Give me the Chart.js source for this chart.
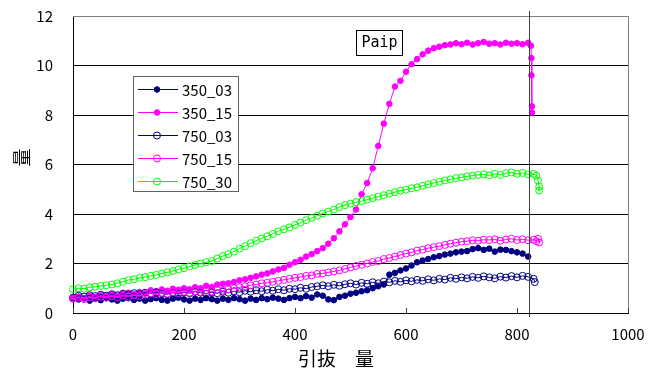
<!doctype html>
<html lang="ja">
<head>
<meta charset="utf-8">
<title>Paip</title>
<script src="https://cdn.jsdelivr.net/npm/chart.js"></script>
<style>
  html, body { margin: 0; padding: 0; background: #fff; }
  #wrap { width: 653px; height: 374px; }
</style>
<script>
// x positions shared by all series (引抜量)
const xSteps = [0,10,20,30,40,50,60,70,80,90,100,110,120,130,140,150,160,170,180,190,
  200,210,220,230,240,250,260,270,280,290,300,310,320,330,340,350,360,370,380,390,
  400,410,420,430,440,450,460,470,480,490,500,510,520,530,540,550,560,570,580,590,
  600,610,620,630,640,650,660,670,680,690,700,710,720,730,740,750,760,770,780,790,
  800,810,820];

const s350_03 = [0.62,0.55,0.6,0.5,0.58,0.52,0.6,0.55,0.5,0.58,0.6,0.53,0.58,0.5,0.56,0.6,0.53,0.5,0.58,0.62,
  0.55,0.5,0.58,0.53,0.6,0.56,0.5,0.58,0.53,0.6,0.56,0.5,0.58,0.53,0.6,0.56,0.62,0.58,0.53,0.6,
  0.65,0.6,0.68,0.62,0.75,0.7,0.55,0.52,0.65,0.7,0.78,0.82,0.88,0.92,1.0,1.08,1.15,1.55,1.62,1.72,
  1.8,1.92,2.05,2.12,2.18,2.25,2.3,2.36,2.4,2.45,2.48,2.5,2.58,2.62,2.55,2.6,2.48,2.56,2.55,2.5,
  2.45,2.4,2.28];
const s350_15 = [0.6,0.66,0.58,0.7,0.64,0.72,0.68,0.75,0.7,0.78,0.82,0.76,0.85,0.8,0.92,0.88,0.95,0.9,0.98,0.94,
  1.0,0.96,1.04,1.0,1.1,1.05,1.15,1.18,1.2,1.25,1.32,1.36,1.42,1.48,1.55,1.6,1.68,1.76,1.82,1.95,
  2.05,2.15,2.28,2.38,2.5,2.62,2.8,3.02,3.3,3.58,3.88,4.18,4.8,5.25,5.85,6.75,7.65,8.45,9.15,9.38,
  9.75,10.05,10.26,10.45,10.6,10.7,10.76,10.82,10.85,10.9,10.86,10.92,10.85,10.9,10.95,10.88,10.9,10.85,10.92,10.88,
  10.9,10.86,10.92];
const s750_03 = [0.62,0.7,0.66,0.72,0.68,0.74,0.7,0.76,0.72,0.78,0.74,0.8,0.76,0.82,0.78,0.84,0.8,0.76,0.82,0.78,
  0.84,0.8,0.86,0.82,0.78,0.84,0.8,0.86,0.82,0.88,0.84,0.9,0.86,0.92,0.88,0.94,0.9,0.96,0.92,0.98,
  0.96,1.02,0.98,1.05,1.08,1.12,1.08,1.14,1.1,1.16,1.2,1.15,1.22,1.18,1.24,1.2,1.27,1.24,1.3,1.26,
  1.32,1.28,1.34,1.3,1.36,1.32,1.38,1.35,1.42,1.38,1.44,1.4,1.46,1.42,1.48,1.44,1.4,1.47,1.43,1.49,
  1.44,1.5,1.46];
const s750_15 = [0.58,0.62,0.56,0.64,0.6,0.66,0.62,0.68,0.64,0.7,0.66,0.72,0.68,0.74,0.8,0.76,0.82,0.78,0.84,0.8,
  0.86,0.82,0.88,0.85,0.9,0.87,0.93,0.9,0.96,1.0,1.04,1.08,1.12,1.15,1.2,1.22,1.26,1.3,1.34,1.38,
  1.42,1.45,1.5,1.52,1.58,1.6,1.64,1.68,1.72,1.78,1.84,1.9,1.95,2.0,2.06,2.1,2.18,2.22,2.28,2.34,
  2.4,2.45,2.52,2.56,2.62,2.66,2.7,2.75,2.8,2.84,2.88,2.9,2.94,2.92,2.96,2.95,2.98,2.92,2.97,3.0,
  2.95,2.98,2.94];
const s750_30 = [0.96,1.0,0.98,1.04,1.06,1.09,1.12,1.15,1.2,1.26,1.33,1.36,1.42,1.45,1.5,1.54,1.6,1.64,1.7,1.76,
  1.81,1.88,1.94,2.0,2.05,2.1,2.2,2.3,2.38,2.48,2.6,2.7,2.82,2.92,3.02,3.1,3.2,3.3,3.38,3.46,
  3.56,3.65,3.75,3.84,3.93,4.02,4.1,4.18,4.28,4.36,4.42,4.48,4.52,4.58,4.64,4.7,4.76,4.82,4.88,4.94,
  4.98,5.04,5.08,5.14,5.2,5.25,5.3,5.36,5.4,5.45,5.48,5.52,5.55,5.58,5.6,5.56,5.62,5.58,5.65,5.68,
  5.62,5.66,5.6];

// end of each run (unloading)
const tail350_15x = [825,826,826,827,827];
const tail350_15y = [10.8,10.3,9.6,8.35,8.1];
const tail750_03x = [830,832];
const tail750_03y = [1.38,1.25];
const tail750_15x = [830,835,838,840];
const tail750_15y = [2.96,2.9,3.0,2.85];
const tail750_30x = [830,835,838,840,840];
const tail750_30y = [5.62,5.55,5.35,5.1,4.95];

const seriesNames = ['350_03','350_15','750_03','750_15','750_30'];
const xTicks = [0,200,400,600,800,1000];
const markX = 822;

const FONT = '"Noto Sans CJK JP", "Noto Sans", sans-serif';

function pts(ys, tx, ty){
  const out = [];
  for(let i=0;i<ys.length;i++) out.push({x:xSteps[i], y:ys[i]});
  if(tx){
    for(let i=0;i<tx.length;i++) out.push({x:tx[i], y:ty[i]});
  }
  return out;
}

const decor = {
  id: 'decor',
  afterDraw(chart){
    const ctx = chart.ctx;
    const a = chart.chartArea;
    const xs = chart.scales.x;
    ctx.save();
    // top / right border
    ctx.strokeStyle = '#808080';
    ctx.lineWidth = 1;
    ctx.beginPath();
    ctx.moveTo(a.left, a.top + 0.5);
    ctx.lineTo(a.right + 0.5, a.top + 0.5);
    ctx.lineTo(a.right + 0.5, a.bottom);
    ctx.stroke();
    // inside tick marks on x axis
    ctx.strokeStyle = '#404040';
    ctx.beginPath();
    xTicks.forEach(function(v){
      const px = Math.round(xs.getPixelForValue(v)) + 0.5;
      ctx.moveTo(px, a.bottom);
      ctx.lineTo(px, a.bottom - 5);
    });
    ctx.stroke();
    // vertical marker line
    const mx = Math.round(xs.getPixelForValue(markX)) + 0.5;
    ctx.strokeStyle = '#404040';
    ctx.beginPath();
    ctx.moveTo(mx, a.top - 5);
    ctx.lineTo(mx, a.bottom + 4);
    ctx.stroke();

    // Paip label
    ctx.fillStyle = '#fff';
    ctx.fillRect(356, 30, 47, 26);
    ctx.strokeStyle = '#000';
    ctx.strokeRect(356.5, 30.5, 46, 25);
    ctx.fillStyle = '#000';
    ctx.font = '15px "DejaVu Sans Mono", monospace';
    ctx.textAlign = 'center';
    ctx.textBaseline = 'middle';
    ctx.fillText('Paip', 379.5, 43.5);

    // legend
    ctx.fillStyle = '#fff';
    ctx.fillRect(133, 76, 105, 116);
    ctx.strokeStyle = '#606060';
    ctx.strokeRect(133.5, 76.5, 105, 115);
    ctx.font = '15px ' + FONT;
    ctx.textAlign = 'left';
    chart.data.datasets.forEach(function(ds, i){
      const yy = 89 + i * 23;
      ctx.strokeStyle = ds.borderColor;
      ctx.lineWidth = 1;
      ctx.beginPath();
      ctx.moveTo(138, yy + 0.5);
      ctx.lineTo(178, yy + 0.5);
      ctx.stroke();
      ctx.beginPath();
      ctx.arc(157, yy + 0.5, ds.pointRadius, 0, Math.PI * 2);
      ctx.fillStyle = ds.pointBackgroundColor;
      ctx.fill();
      ctx.strokeStyle = ds.pointBorderColor;
      ctx.stroke();
      ctx.fillStyle = '#000';
      ctx.fillText(ds.label, 182, yy + 1);
    });

    // axis titles
    ctx.fillStyle = '#000';
    ctx.font = '19px ' + FONT;
    ctx.textAlign = 'center';
    ctx.textBaseline = 'middle';
    ctx.fillText('引抜　量', 336, 359);
    ctx.save();
    ctx.translate(22.5, 157.5);
    ctx.rotate(-Math.PI / 2);
    ctx.font = '18px ' + FONT;
    ctx.fillText('量', 0, 0);
    ctx.restore();
    ctx.restore();
  }
};

function makeSet(name, data, color, filled, order){
  return {
    label: name,
    data: data,
    borderColor: color,
    backgroundColor: color,
    borderWidth: 1,
    pointRadius: filled ? 2.8 : 3.5,
    pointHoverRadius: filled ? 2.8 : 3.5,
    pointBorderWidth: 1,
    pointBackgroundColor: filled ? color : 'rgba(255,255,255,0)',
    pointBorderColor: color,
    tension: 0,
    fill: false,
    clip: false,
    order: order
  };
}

function noPad(s){
  s.paddingTop = 0; s.paddingBottom = 0; s.paddingLeft = 0; s.paddingRight = 0;
}

window.onload = function(){
  const datasets = [
    makeSet(seriesNames[0], pts(s350_03), '#000080', true, 5),
    makeSet(seriesNames[1], pts(s350_15, tail350_15x, tail350_15y), '#ff00ff', true, 4),
    makeSet(seriesNames[2], pts(s750_03, tail750_03x, tail750_03y), '#000080', false, 3),
    makeSet(seriesNames[3], pts(s750_15, tail750_15x, tail750_15y), '#ff00ff', false, 2),
    makeSet(seriesNames[4], pts(s750_30, tail750_30x, tail750_30y), '#00ff00', false, 1)
  ];

  new Chart(document.getElementById('c'), {
    type: 'line',
    data: { datasets: datasets },
    options: {
      responsive: false,
      animation: false,
      layout: { padding: { top: 16, right: 25, left: 0, bottom: 0 } },
      plugins: { legend: { display: false }, tooltip: { enabled: false } },
      scales: {
        x: {
          type: 'linear',
          min: 0, max: 1000,
          afterFit: function(s){ s.height = 61; noPad(s); },
          afterBuildTicks: function(s){ s.ticks = xTicks.map(function(v){ return {value: v}; }); },
          ticks: { color: '#000', font: { family: FONT, size: 15 }, padding: 12, maxRotation: 0,
                   callback: function(v){ return String(v); } },
          grid: { display: false, drawTicks: false },
          border: { display: true, color: '#000', width: 1 }
        },
        y: {
          min: 0, max: 12,
          afterFit: function(s){ s.width = 73; noPad(s); },
          ticks: { stepSize: 2, color: '#000', font: { family: FONT, size: 15 }, padding: 20 },
          grid: { color: '#000', lineWidth: 1, drawTicks: false },
          border: { display: true, color: '#000', width: 1 }
        }
      }
    },
    plugins: [decor]
  });
};
</script>
</head>
<body>
<div id="wrap"><canvas id="c" width="653" height="374"></canvas></div>
</body>
</html>
